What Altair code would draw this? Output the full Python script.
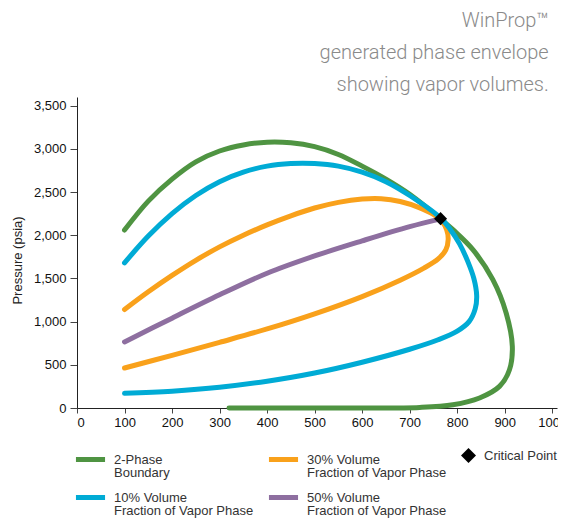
import altair as alt
import pandas as pd

# ---- data ----
series_names = [
    "2-Phase|Boundary",
    "10% Volume|Fraction of Vapor Phase",
    "30% Volume|Fraction of Vapor Phase",
    "50% Volume|Fraction of Vapor Phase",
]
series_colors = ["#4f9442", "#00abd5", "#f9a11b", "#8e6fa0"]

green_t = [100, 150, 200, 250, 300, 350, 400, 450, 500, 550, 600, 650, 700, 765,
           791, 833, 875, 903, 916, 910, 889, 847, 791, 721, 600, 320]
green_p = [2060, 2395, 2650, 2850, 2975, 3045, 3077, 3070, 3025, 2935, 2800, 2650, 2475, 2190,
           2064, 1833, 1486, 1100, 713, 443, 250, 116, 38, 7, 0, 0]

blue_t = [100, 150, 200, 250, 300, 350, 400, 450, 500, 550, 600, 650, 700, 765,
          785, 805, 822, 835, 841, 838, 825, 800, 760, 700, 600, 500, 400, 300, 200, 100]
blue_p = [1680, 1990, 2250, 2460, 2620, 2730, 2800, 2830, 2830, 2800, 2730, 2620, 2460, 2200,
          2070, 1900, 1700, 1500, 1300, 1150, 1000, 890, 790, 680, 530, 405, 310, 240, 195, 170]

orange_t = [100, 150, 200, 250, 300, 350, 400, 450, 500, 550, 600, 640, 680, 720, 750, 768,
            778, 781, 776, 760, 730, 680, 600, 500, 400, 300, 200, 100]
orange_p = [1140, 1345, 1535, 1710, 1865, 2000, 2120, 2225, 2315, 2380, 2418, 2422, 2390, 2320, 2240, 2160,
            2060, 1950, 1830, 1725, 1620, 1480, 1290, 1090, 915, 760, 610, 463]

purple_t = [100, 200, 300, 400, 500, 600, 700, 765]
purple_p = [764, 1040, 1310, 1560, 1760, 1935, 2100, 2190]

critical_t = [765]
critical_p = [2192]
critical_label = ["Critical Point"]

x_ticks = [0, 100, 200, 300, 400, 500, 600, 700, 800, 900, 1000]
y_ticks = [0, 500, 1000, 1500, 2000, 2500, 3000, 3500]

title_lines = ["WinProp\u2122", "generated phase envelope", "showing vapor volumes."]

# ---- build tables (drawing order: green, orange, blue, purple) ----
rows = []
for name, ts, ps in zip([series_names[0], series_names[2], series_names[1], series_names[3]],
                        [green_t, orange_t, blue_t, purple_t],
                        [green_p, orange_p, blue_p, purple_p]):
    for i, (t, p) in enumerate(zip(ts, ps)):
        rows.append({"series": name, "i": i, "t": t, "p": p})
df = pd.DataFrame(rows)
df_cp = pd.DataFrame({"t": critical_t, "p": critical_p, "label": critical_label})

FONT = "Liberation Sans"

x_enc = alt.X("t:Q", scale=alt.Scale(domain=[0, 1010], nice=False),
              axis=alt.Axis(values=x_ticks, format="d", title=None, grid=False, tickSize=5,
                            labelPadding=3, labelFont=FONT, labelFontSize=13,
                            labelColor="#111", tickColor="#444", domainColor="#222"))
y_enc = alt.Y("p:Q", scale=alt.Scale(domain=[0, 3600], nice=False),
              axis=alt.Axis(values=y_ticks, format=",d", title="Pressure (psia)",
                            grid=False, tickSize=7, labelPadding=4, labelFont=FONT,
                            labelFontSize=13, labelColor="#111", tickColor="#444",
                            domainColor="#222", titleFont=FONT, titleFontSize=13,
                            titleFontWeight="normal", titleColor="#222",
                            titleX=-60, titleY=163, titleAngle=270,
                            titleBaseline="middle"))

lines = alt.Chart(df).mark_line(
    strokeWidth=5, strokeCap="round", strokeJoin="round", interpolate="catmull-rom"
).encode(
    x=x_enc,
    y=y_enc,
    color=alt.Color("series:N", sort=series_names,
                    scale=alt.Scale(domain=series_names, range=series_colors),
                    legend=alt.Legend(orient="none", legendX=-4, legendY=345,
                                      columns=2, title=None, padding=0,
                                      symbolType="M-0.97,0H0.97",
                                      symbolSize=900, symbolStrokeWidth=5,
                                      labelExpr="split(datum.label, '|')",
                                      labelFont=FONT, labelFontSize=13,
                                      labelColor="#333", labelOffset=6,
                                      labelLimit=200,
                                      columnPadding=4, rowPadding=0)),
    order="i:Q",
)

point = alt.Chart(df_cp).mark_point(filled=True, size=170, opacity=1, color="black").encode(
    x="t:Q",
    y="p:Q",
    shape=alt.Shape("label:N",
                    scale=alt.Scale(domain=critical_label, range=["diamond"]),
                    legend=alt.Legend(orient="none", legendX=384, legendY=351,
                                      title=None, padding=0, symbolSize=225,
                                      symbolStrokeWidth=0, symbolFillColor="black",
                                      labelFont=FONT, labelFontSize=13,
                                      labelColor="#333", labelOffset=8)),
)

chart = alt.layer(lines, point).properties(
    width=480,
    height=311,
    autosize=alt.AutoSizeParams(type="none"),
    padding={"left": 69, "top": 89, "right": 1, "bottom": 111},
    title=alt.Title(title_lines, anchor="end", font="Roboto", fontSize=20,
                    fontWeight=300, color="#8a8a8a", lineHeight=32,
                    offset=2, dx=-18),
).configure(
    style={"guide-label": {"lineHeight": 13.5}},
).configure_view(stroke=None)

chart.save("out.html", embed_options={"renderer": "svg", "actions": False})
